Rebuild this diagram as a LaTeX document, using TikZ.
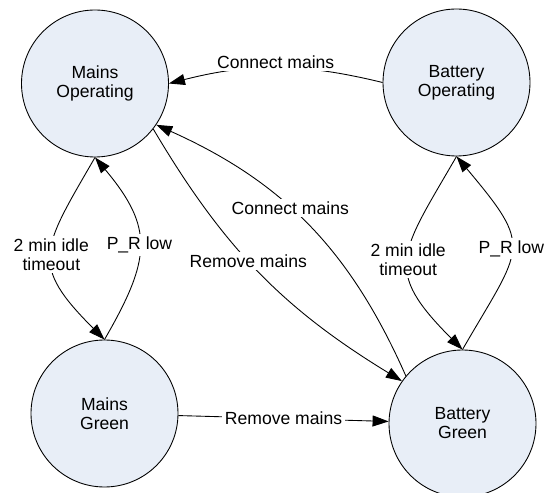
\documentclass[tikz,border=0pt]{standalone}
\usepackage{fontspec}
\setmainfont{Liberation Sans}
\usetikzlibrary{arrows.meta}
\definecolor{modefill}{RGB}{232,238,247}

\begin{document}
\begin{tikzpicture}[>={Triangle[length=0.32cm,width=0.22cm]},
  font=\fontsize{10}{10.8}\selectfont,
  modecircle/.style={draw, circle, fill=modefill, minimum size=2.94cm, inner sep=0pt, align=center, line width=0.5pt},
  tlabel/.style={fill=white, inner sep=1.5pt, align=center}]
\useasboundingbox (0,0) rectangle (10.88,9.84);
\node[modecircle] (mo) at (1.90,8.17) {Mains\\Operating};
\node[modecircle] (bo) at (9.13,8.19) {Battery\\Operating};
\node[modecircle] (mg) at (2.09,1.57) {Mains\\Green};
\node[modecircle] (bg) at (9.25,1.37) {Battery\\Green};
\draw[->, line width=0.5pt] (bo.west) to[bend right=14] node[tlabel, yshift=0.12cm] {Connect mains} (mo.east);
\draw[->, line width=0.5pt] (mo.south) to[out=240, in=135, looseness=1.5] node[tlabel] {2 min idle\\timeout} (mg.north);
\draw[->, line width=0.5pt] (mg.north) to[out=60, in=-50, looseness=1.3] node[tlabel] {P\_R low} (mo.south);
\draw[->, line width=0.5pt] (bo.south) to[out=240, in=135, looseness=1.5] node[tlabel] {2 min idle\\timeout} (bg.north);
\draw[->, line width=0.5pt] (bg.north) to[out=60, in=-50, looseness=1.6] node[tlabel] {P\_R low} (bo.south);
\draw[->, line width=0.5pt] (mo.-38) to[bend right=14] node[tlabel, pos=0.45] {Remove mains} (bg.145);
\draw[->, line width=0.5pt] (bg.140) to[bend right=21] node[tlabel, pos=0.57] {Connect mains} (mo.-34);
\draw[->, line width=0.5pt] (mg) -- node[tlabel] {Remove mains} (bg);
\end{tikzpicture}
\end{document}
